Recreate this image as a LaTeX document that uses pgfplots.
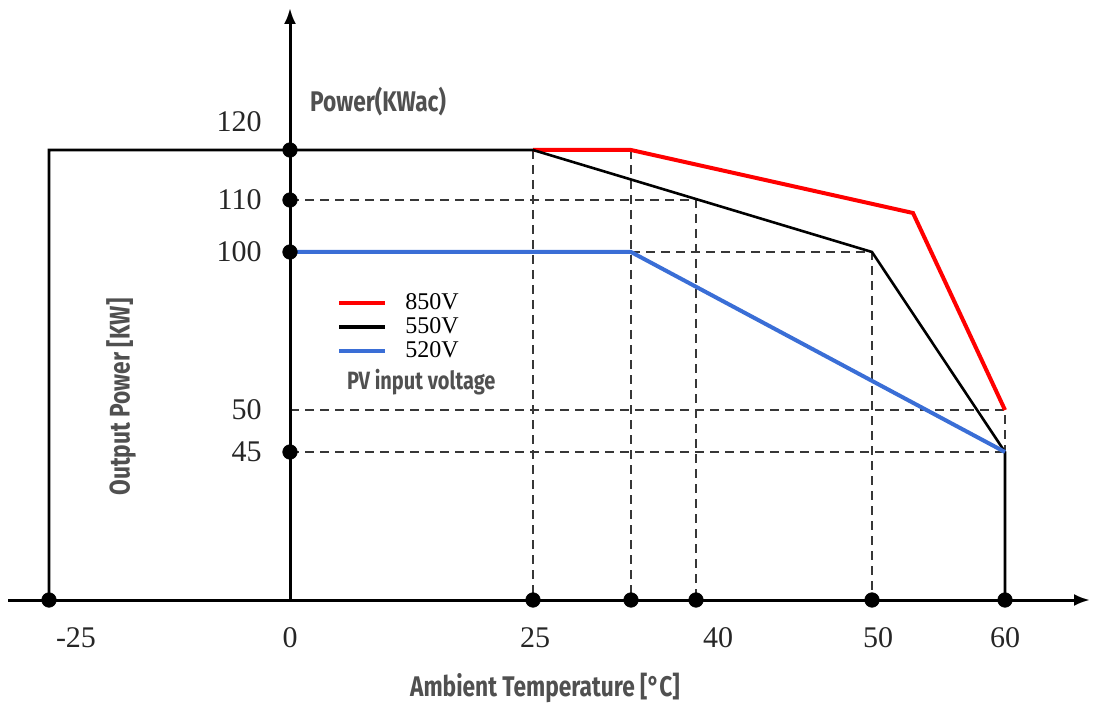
\documentclass[border=0pt]{standalone}
\usepackage{fontspec}
\setmainfont{Liberation Serif}
\newfontfamily\labfont[FakeStretch=0.8]{Fira Sans}
\usepackage{pgfplots}
\pgfplotsset{compat=1.18}
\usetikzlibrary{arrows.meta}
\definecolor{derRed}{RGB}{255,0,0}
\definecolor{derBlue}{RGB}{58,110,214}
\definecolor{dashGray}{RGB}{55,55,55}
\definecolor{labGray}{RGB}{80,80,80}
\pgfplotsset{
  guide/.style={dashGray, line width=1.1pt, dash pattern=on 4.5pt off 3pt, forget plot},
}
\tikzset{
  labtext/.style={font=\labfont\bfseries\fontsize{14.2}{14.2}\selectfont, text=labGray},
}

\begin{document}
\begin{tikzpicture}
\begin{axis}[
    scale only axis, width=547pt, height=354.5pt,
    xmin=-290, xmax=804, ymin=-109, ymax=600,
    enlargelimits=false, clip=false,
    axis lines=middle, axis line style={draw=none},
    major tick length=0pt,
    hide obscured x ticks=false, hide obscured y ticks=false,
    xtick={-214,0,245,428,588,715},
    xticklabels={-25,0,25,40,50,60},
    ytick={148,190,348,400,478},
    yticklabels={45,50,100,110,120},
    /pgf/number format/assume math mode=true,
    ticklabel style={font=\fontsize{15}{15}\selectfont, text=black!85},
    xticklabel style={anchor=center, inner sep=0pt, yshift=-19pt},
    yticklabel style={anchor=east, inner sep=0pt, xshift=-14pt},
    legend cell align=left,
    legend image code/.code={\draw[#1, line width=2pt] (0pt,0pt) -- (23pt,0pt);},
    legend style={at={(0.308,0.589)}, anchor=north west, draw=none, fill=none,
      inner sep=0pt, row sep=1pt, font=\fontsize{12}{12}\selectfont,
      nodes={inner sep=1pt, text height=8pt, text depth=1pt},
      /tikz/every odd column/.append style={column sep=8pt}},
  ]
  % keeps the page the size of the reference
  \addplot[draw=none, forget plot] coordinates {(-290,-109) (804,600)};

  % dashed guide lines
  \addplot[guide] coordinates {(0,400) (406,400) (406,0)};
  \addplot[guide] coordinates {(243,450) (243,0)};
  \addplot[guide] coordinates {(341,450) (341,0)};
  \addplot[guide] coordinates {(341,348) (582,348) (582,0)};
  \addplot[guide] coordinates {(0,190) (715,190) (715,148)};
  \addplot[guide] coordinates {(0,148) (715,148)};

  % axes
  \addplot[black, line width=1.5pt, -{Latex[length=8pt,width=6pt]}, forget plot]
    coordinates {(-282,0) (800,0)};
  \addplot[black, line width=1.5pt, -{Latex[length=8pt,width=6pt]}, forget plot]
    coordinates {(0,0) (0,592)};

  % derating curves
  \addplot[derRed, line width=2pt] coordinates {(243,450) (341,450) (623,387) (715,190)};
  \addlegendentry{850V}
  \addplot[black, line width=1.3pt] coordinates {(-241,0) (-241,450) (243,450) (582,348) (715,148) (715,0)};
  \addlegendentry{550V}
  \addplot[derBlue, line width=2pt] coordinates {(0,348) (341,348) (715,148)};
  \addlegendentry{520V}

  % dots on the axes
  \addplot[only marks, mark=*, mark size=3.6pt, black, forget plot]
    coordinates {(0,450) (0,400) (0,348) (0,148) (-241,0) (243,0) (341,0) (406,0) (582,0) (715,0)};

  \node[labtext, anchor=west] at (axis cs:13,498) {Power(KWac)};
  \node[labtext, anchor=west, font=\labfont\bfseries\fontsize{12.5}{12.5}\selectfont] at (axis cs:50,218) {PV input voltage};
  \node[labtext] at (axis cs:255,-88) {Ambient Temperature [°C]};
  \node[labtext, rotate=90] at (axis cs:-169,203) {Output Power [KW]};
\end{axis}
\end{tikzpicture}
\end{document}
